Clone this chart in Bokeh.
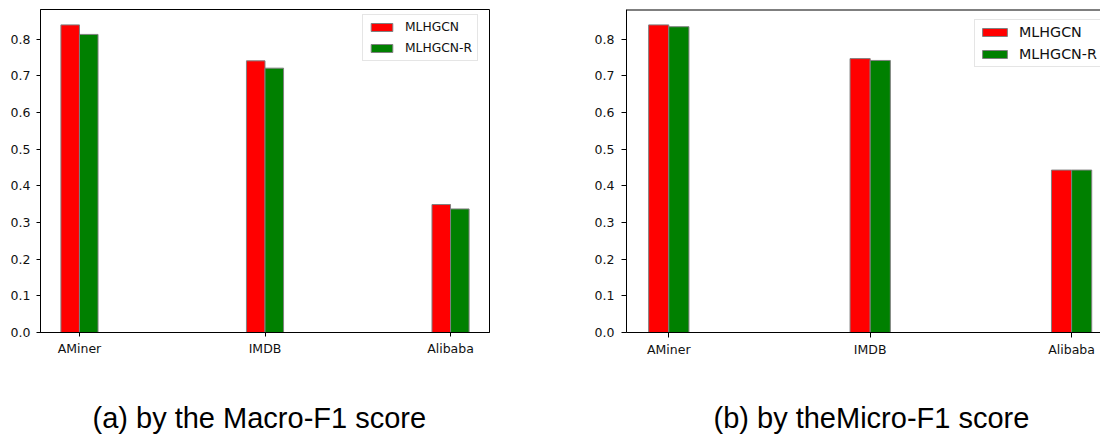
import numpy as np
from bokeh.plotting import figure
from bokeh.layouts import row, column
from bokeh.models import ColumnDataSource, FixedTicker, Range1d, Span
from bokeh.core.properties import value
from bokeh.embed import file_html
from bokeh.resources import INLINE

# ---- data ----
datasets = ["AMiner", "IMDB", "Alibaba"]
series_names = ["MLHGCN", "MLHGCN-R"]
macro_mlhgcn = [0.839, 0.741, 0.349]
macro_mlhgcn_r = [0.813, 0.721, 0.337]
micro_mlhgcn = [0.839, 0.747, 0.443]
micro_mlhgcn_r = [0.834, 0.742, 0.443]
y_ticks = [0.0, 0.1, 0.2, 0.3, 0.4, 0.5, 0.6, 0.7, 0.8]
captions = ["(a) by the Macro-F1 score", "(b) by theMicro-F1 score"]

FONT = "DejaVu Sans"
BAR_W = 0.1
PLOT_H = 370
CAP_H = 65
TOTAL_W = 1100


def make_panel(vals_a, vals_b, width, border_left, border_right,
               x_end, legend_loc, legend_font, glyph_w, label_h, spacing,
               padding, standoff, tick_out, tick_standoff, outline):
    x = np.arange(len(datasets), dtype=float)
    ymax = max(max(vals_a), max(vals_b)) * 1.05
    p = figure(width=width, height=PLOT_H, output_backend="svg",
               toolbar_location=None, tools="",
               x_range=Range1d(-0.21, x_end), y_range=Range1d(0, ymax),
               min_border_left=border_left, min_border_right=border_right,
               min_border_top=9, min_border_bottom=PLOT_H - 332)
    src = ColumnDataSource(dict(xa=x - BAR_W / 2, xb=x + BAR_W / 2,
                                a=vals_a, b=vals_b))
    p.vbar(x="xa", top="a", width=BAR_W, source=src, fill_color="red",
           line_color="gray", line_width=1, legend_label=series_names[0])
    p.vbar(x="xb", top="b", width=BAR_W, source=src, fill_color="green",
           line_color="gray", line_width=1, legend_label=series_names[1])

    p.xgrid.visible = False
    p.ygrid.visible = False
    p.background_fill_color = "white"
    p.border_fill_color = "white"
    if outline:
        p.outline_line_color = "black"
        p.outline_line_width = 1
    else:
        p.outline_line_color = None
        top_line = Span(location=ymax, dimension="width",
                        line_color="black", line_width=2)
        p.add_layout(top_line)

    p.xaxis.ticker = FixedTicker(ticks=list(x))
    overrides = {}
    for i, d in zip(x, datasets):
        overrides[float(i)] = d
        overrides[int(i)] = d
    p.xaxis.major_label_overrides = overrides
    p.yaxis.ticker = FixedTicker(ticks=y_ticks)
    p.yaxis.major_label_overrides = {t: f"{t:.1f}" for t in y_ticks}
    for ax in (p.xaxis[0], p.yaxis[0]):
        ax.axis_line_color = "black"
        ax.axis_line_width = 1
        ax.major_tick_line_color = "black"
        ax.major_tick_in = 0
        ax.major_tick_out = tick_out
        ax.minor_tick_line_color = None
        ax.major_label_text_font = FONT
        ax.major_label_text_font_size = "12.5px"
        ax.major_label_text_color = "#111111"
    p.xaxis.major_label_standoff = 4
    p.yaxis.major_label_standoff = tick_standoff

    lg = p.legend[0]
    lg.location = legend_loc
    lg.label_text_font = FONT
    lg.label_text_font_size = legend_font
    lg.label_text_color = "#111111"
    lg.glyph_width = glyph_w
    lg.glyph_height = 10
    lg.label_height = label_h
    lg.label_standoff = standoff
    lg.spacing = spacing
    lg.padding = padding
    lg.margin = 0
    lg.border_line_color = "#cccccc"
    lg.border_line_width = 1
    lg.background_fill_alpha = 0.8
    return p


p1 = make_panel(macro_mlhgcn, macro_mlhgcn_r, width=560,
                border_left=40, border_right=71, x_end=2.21,
                legend_loc=(322, 271), legend_font="12.3px", glyph_w=27,
                label_h=14, spacing=7, padding=5, standoff=10, tick_out=4,
                tick_standoff=6, outline=True)
p2 = make_panel(micro_mlhgcn, micro_mlhgcn_r, width=TOTAL_W - 560,
                border_left=66, border_right=0, x_end=-0.21 + 474 / 201.4,
                legend_loc=(348, 265), legend_font="14.3px", glyph_w=31,
                label_h=14, spacing=6, padding=4, standoff=9, tick_out=5,
                tick_standoff=7, outline=False)

# caption strip below the two panels (pixel-mapped ranges)
cap = figure(width=TOTAL_W, height=CAP_H, output_backend="svg",
             toolbar_location=None, tools="", title=None,
             x_axis_type=None, y_axis_type=None,
             x_range=Range1d(0, TOTAL_W), y_range=Range1d(0, CAP_H),
             min_border=0)
cap.grid.visible = False
cap.outline_line_color = None
cap_src = ColumnDataSource(dict(x=[92, 713], y=[18, 18], t=captions))
cap.text(x="x", y="y", text="t", source=cap_src,
         text_font=value("Liberation Sans"), text_font_size="29px",
         text_color="black", text_align="left", text_baseline="middle")

layout = column(row(p1, p2), cap)
open("out.html", "w").write(file_html(layout, INLINE))
